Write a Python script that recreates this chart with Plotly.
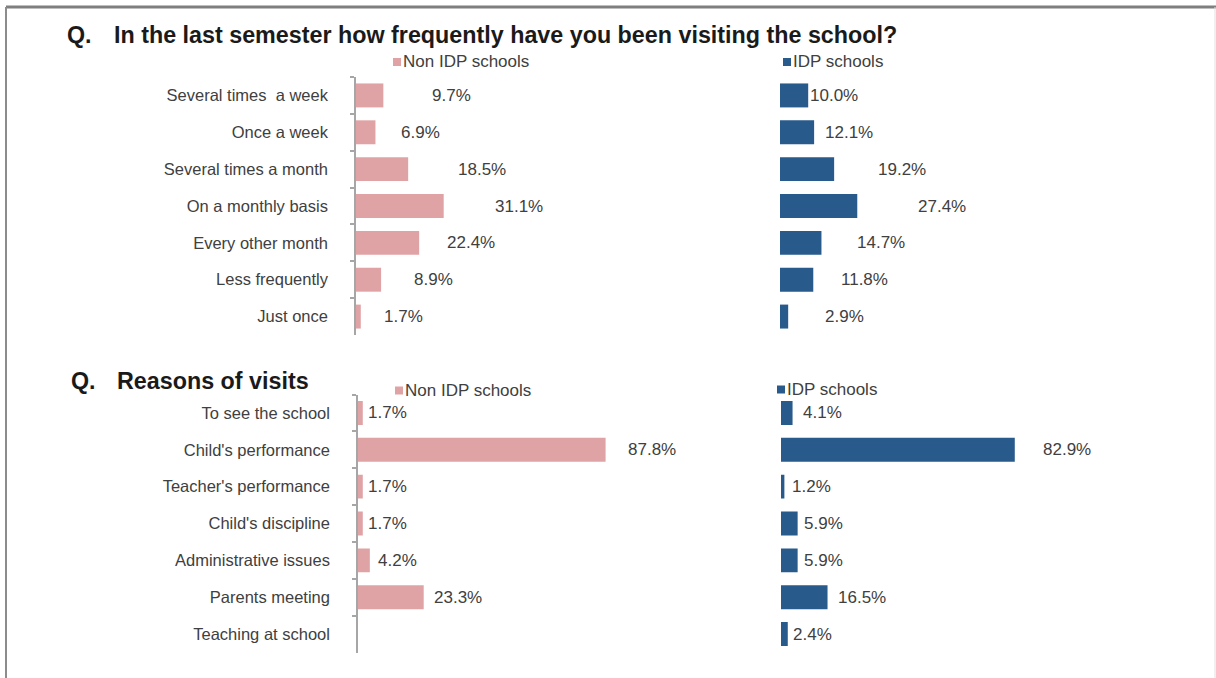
import plotly.graph_objects as go

# ---------------- data ----------------
freq_categories = ["Several times  a week", "Once a week", "Several times a month",
                   "On a monthly basis", "Every other month", "Less frequently", "Just once"]
freq_non_idp = [9.7, 6.9, 18.5, 31.1, 22.4, 8.9, 1.7]
freq_idp = [10.0, 12.1, 19.2, 27.4, 14.7, 11.8, 2.9]

reason_categories = ["To see the school", "Child's performance", "Teacher's performance",
                     "Child's discipline", "Administrative issues", "Parents meeting",
                     "Teaching at school"]
reason_non_idp = [1.7, 87.8, 1.7, 1.7, 4.2, 23.3, None]
reason_idp = [4.1, 82.9, 1.2, 5.9, 5.9, 16.5, 2.4]

title_top = "In the last semester how frequently have you been visiting the school?"
title_bottom = "Reasons of visits"
series_names = ["Non IDP schools", "IDP schools"]

# ---------------- styling / layout ----------------
W, H = 1216, 678
PINK = "#E0A3A5"
BLUE = "#285A8C"
TXT = "#404040"
FONT = "Liberation Sans, Arial, sans-serif"

# label offsets (px) from bar end, as drawn in the reference
off_freq_non = [47, 24, 48, 49, 26, 31, 21]
off_freq_idp = [0, 9, 42, 59, 34, 26, 35]
off_reason_non = [3, 20, 3, 3, 6, 8, 0]
off_reason_idp = [8, 26, 6, 4, 4, 8, 3]


def px(x):
    return x / W


def py(y):
    return 1 - y / H


fig = go.Figure()

panels = [
    ("x", "y", freq_categories, freq_non_idp, PINK, (356, 638), (77, 335), off_freq_non, True),
    ("x2", "y2", freq_categories, freq_idp, BLUE, (780, 1062), (77, 335), off_freq_idp, False),
    ("x3", "y3", reason_categories, reason_non_idp, PINK, (358, 640), (394.5, 652.5), off_reason_non, True),
    ("x4", "y4", reason_categories, reason_idp, BLUE, (781, 1063), (394.5, 652.5), off_reason_idp, False),
]

annotations = []
layout_axes = {}
for i, (xa, ya, cats, vals, col, xd, yd, offs, show_axis) in enumerate(panels):
    fig.add_trace(go.Bar(
        x=vals, y=cats, orientation="h", marker=dict(color=col, line=dict(width=0)),
        xaxis=xa, yaxis=ya, showlegend=False, hoverinfo="skip",
    ))
    xkey = "xaxis" if xa == "x" else "xaxis" + xa[1:]
    ykey = "yaxis" if ya == "y" else "yaxis" + ya[1:]
    layout_axes[xkey] = dict(domain=[px(xd[0]), px(xd[1])], range=[0, 100],
                             visible=False, anchor=ya, fixedrange=True)
    yax = dict(domain=[py(yd[1]), py(yd[0])], type="category",
               categoryorder="array", categoryarray=cats,
               range=[len(cats) - 0.5, -0.5], anchor=xa, fixedrange=True,
               showgrid=False, zeroline=False)
    if show_axis:
        yax.update(showline=True, linecolor="#A6A6A6", linewidth=1.5,
                   ticks="outside", tickson="boundaries", ticklen=4,
                   tickcolor="#A6A6A6", tickwidth=1.5,
                   ticklabelstandoff=23,
                   tickfont=dict(family=FONT, size=16.5, color=TXT))
    else:
        yax.update(showline=False, showticklabels=False, ticks="")
    layout_axes[ykey] = yax

    for c, v, o in zip(cats, vals, offs):
        if v is None:
            continue
        annotations.append(dict(
            x=v, y=c, xref=xa, yref=ya, text=f"{v:.1f}%", showarrow=False,
            xanchor="left", yanchor="middle", xshift=o,
            font=dict(family=FONT, size=17, color=TXT)))

# titles
for qx, tx, ty, t in [(65, 112, 35, title_top), (69, 115, 381, title_bottom)]:
    annotations.append(dict(x=px(qx), y=py(ty), xref="paper", yref="paper", text="<b>Q.</b>",
                            showarrow=False, xanchor="left", yanchor="middle",
                            font=dict(family=FONT, size=23.3, color="#1A1A1A")))
    annotations.append(dict(x=px(tx), y=py(ty), xref="paper", yref="paper", text=f"<b>{t}</b>",
                            showarrow=False, xanchor="left", yanchor="middle",
                            font=dict(family=FONT, size=23.3, color="#1A1A1A")))

# legends
shapes = []
legend_items = [
    (393, 62, PINK, series_names[0]),
    (783, 62, BLUE, series_names[1]),
    (395, 390.5, PINK, series_names[0]),
    (777, 389.5, BLUE, series_names[1]),
]
for lx, ly, col, name in legend_items:
    shapes.append(dict(type="rect", xref="paper", yref="paper",
                       x0=px(lx), x1=px(lx + 8), y0=py(ly + 4), y1=py(ly - 4),
                       fillcolor=col, line=dict(width=0)))
    annotations.append(dict(x=px(lx + 8), y=py(ly), xref="paper", yref="paper", text=name,
                            showarrow=False, xanchor="left", yanchor="middle",
                            font=dict(family=FONT, size=17, color=TXT)))

# frame
shapes.append(dict(type="line", xref="paper", yref="paper", x0=px(6), x1=1, y0=py(7), y1=py(7),
                   line=dict(color="#7F7F7F", width=3)))
shapes.append(dict(type="line", xref="paper", yref="paper", x0=px(6), x1=px(6), y0=py(7), y1=0,
                   line=dict(color="#8C8C8C", width=2)))
shapes.append(dict(type="line", xref="paper", yref="paper", x0=px(1215), x1=px(1215), y0=py(7), y1=0,
                   line=dict(color="#E0E0E0", width=1)))

fig.update_layout(
    width=W, height=H, margin=dict(l=0, r=0, t=0, b=0),
    paper_bgcolor="white", plot_bgcolor="white",
    bargap=0.35, annotations=annotations, shapes=shapes,
    font=dict(family=FONT, color=TXT),
    **layout_axes,
)

fig.write_html("out.html", config={"displayModeBar": False},
               post_script="document.body.style.margin='0';document.body.style.overflow='hidden';")
